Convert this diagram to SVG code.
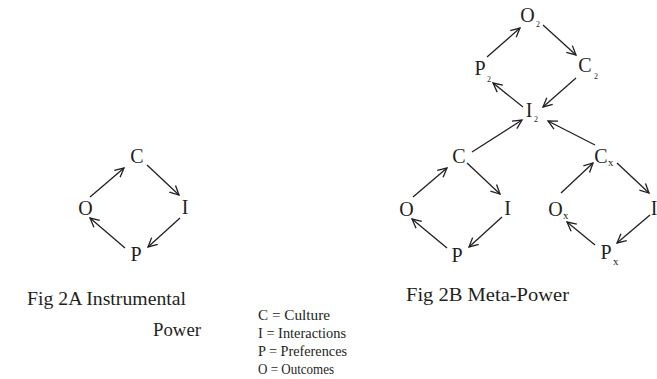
<svg xmlns="http://www.w3.org/2000/svg" width="657" height="379" viewBox="0 0 657 379">
<style>
.n{font-family:"Liberation Serif","Times New Roman",serif;font-size:20px;fill:#231f20;text-anchor:middle}
.s{font-family:"Liberation Serif","Times New Roman",serif;font-size:8px;fill:#231f20}
.x{font-family:"Liberation Serif","Times New Roman",serif;font-size:11px;fill:#231f20}
.t{font-family:"Liberation Serif","Times New Roman",serif;font-size:18.5px;fill:#231f20}
.l{font-family:"Liberation Serif","Times New Roman",serif;font-size:14px;fill:#231f20}
.e{stroke:#231f20;stroke-width:1.3;fill:none;marker-end:url(#a)}
</style>
<defs>
<marker id="a" markerUnits="userSpaceOnUse" markerWidth="14" markerHeight="14" refX="10" refY="5" orient="auto" viewBox="0 0 14 10">
<path d="M1,0.5 L10,5 L1,9.5" fill="none" stroke="#231f20" stroke-width="1.3"/>
</marker>
</defs>
<g id="A-C"><text class="n" x="137" y="163">C</text></g>
<g id="A-O"><text class="n" x="85.5" y="215">O</text></g>
<g id="A-I"><text class="n" x="185" y="214">I</text></g>
<g id="A-P"><text class="n" x="136" y="261">P</text></g>
<g id="B-O2"><text class="n" x="527.5" y="22">O</text><text class="s" x="536" y="27">2</text></g>
<g id="B-P2"><text class="n" x="480" y="75">P</text><text class="s" x="487" y="82">2</text></g>
<g id="B-C2"><text class="n" x="585" y="72">C</text><text class="s" x="594" y="79">2</text></g>
<g id="B-I2"><text class="n" x="529" y="117">I</text><text class="s" x="534" y="122">2</text></g>
<g id="B-C"><text class="n" x="459" y="163">C</text></g>
<g id="B-O"><text class="n" x="406.5" y="216">O</text></g>
<g id="B-I"><text class="n" x="507.5" y="215">I</text></g>
<g id="B-P"><text class="n" x="457" y="262">P</text></g>
<g id="B-Cx"><text class="n" x="601" y="163">C</text><text class="x" x="608" y="166">x</text></g>
<g id="B-Ox"><text class="n" x="555.5" y="216">O</text><text class="x" x="563" y="219">x</text></g>
<g id="B-Ix"><text class="n" x="654" y="215">I</text></g>
<g id="B-Px"><text class="n" x="606" y="259">P</text><text class="x" x="613" y="265">x</text></g>
<g id="connectors">
<line class="e" x1="90" y1="197" x2="124" y2="168"/>
<line class="e" x1="147" y1="165" x2="179" y2="195"/>
<line class="e" x1="180" y1="218" x2="148" y2="247"/>
<line class="e" x1="125" y1="248" x2="90" y2="218"/>
<line class="e" x1="487" y1="57" x2="520" y2="28"/>
<line class="e" x1="543" y1="25" x2="576" y2="55"/>
<line class="e" x1="576" y1="78" x2="543" y2="107"/>
<line class="e" x1="523" y1="107" x2="493" y2="83"/>
<line class="e" x1="472" y1="152" x2="522" y2="120"/>
<line class="e" x1="595" y1="145" x2="548" y2="121"/>
<line class="e" x1="413" y1="197" x2="447" y2="168"/>
<line class="e" x1="467" y1="163" x2="500" y2="194"/>
<line class="e" x1="502" y1="217" x2="469" y2="247"/>
<line class="e" x1="447" y1="248" x2="412" y2="219"/>
<line class="e" x1="561" y1="193" x2="593" y2="163"/>
<line class="e" x1="617" y1="163" x2="649" y2="193"/>
<line class="e" x1="650" y1="215" x2="617" y2="243"/>
<line class="e" x1="595" y1="245" x2="567" y2="222"/>
</g>
<g id="labels">
<text class="t" x="27" y="305" textLength="159" lengthAdjust="spacingAndGlyphs">Fig 2A  Instrumental</text>
<text class="t" x="153" y="336" textLength="48" lengthAdjust="spacingAndGlyphs">Power</text>
<text class="t" x="406" y="301" textLength="163" lengthAdjust="spacingAndGlyphs">Fig 2B  Meta-Power</text>
<text class="l" x="258" y="320" textLength="72" lengthAdjust="spacingAndGlyphs">C = Culture</text>
<text class="l" x="258" y="338" textLength="88" lengthAdjust="spacingAndGlyphs">I = Interactions</text>
<text class="l" x="258" y="356" textLength="89" lengthAdjust="spacingAndGlyphs">P = Preferences</text>
<text class="l" x="258" y="374" textLength="76" lengthAdjust="spacingAndGlyphs">O = Outcomes</text>
</g>
</svg>
